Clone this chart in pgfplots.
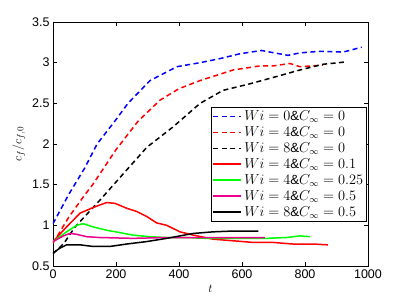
\documentclass[border=0pt]{standalone}
\usepackage{pgfplots}
\pgfplotsset{compat=1.18}
\usepackage{fontspec}
\setmainfont{Liberation Sans}
\begin{document}
\begin{tikzpicture}
\begin{axis}[
 scale only axis, width=315pt, height=244pt,
 xmin=0, xmax=1000, ymin=0.5, ymax=3.5,
 xtick={0,200,...,1000}, ytick={0.5,1,...,3.5},
 tick align=inside, xtick pos=both, ytick pos=both,
 major tick length=4pt,
 tick style={black, line width=0.6pt},
 axis line style={line width=0.8pt},
 ticklabel style={font=\fontsize{12.5}{14}\selectfont},
 /pgf/number format/assume math mode=true,
 /pgf/number format/1000 sep={},
 xlabel={$t$}, ylabel={$c_f/c_{f,0}$},
 label style={font=\fontsize{12.5}{14}\selectfont},
 legend image code/.code={\draw[#1, line width=1.8pt] (0pt,0pt) -- (28pt,0pt);},
 legend style={at={(0.997,0.652)}, anchor=north east, line width=0.9pt,
   font=\fontsize{13.3}{14}\selectfont, inner sep=1.5pt, row sep=0.6pt,
   nodes={inner sep=2pt}},
 legend cell align=left,
]
\addplot[blue, line width=1.5pt, dash pattern=on 5pt off 3.5pt] coordinates {(0,1.02)(50,1.38)(100,1.7)(140,2.0)(200,2.3)(238,2.5)(308,2.78)(393,2.95)(467,3.0)(530,3.05)(594,3.11)(662,3.15)(689,3.13)(746,3.09)(784,3.12)(848,3.14)(921,3.13)(980,3.19)};
\addlegendentry{$Wi=0\&C_\infty=0$}
\addplot[red, line width=1.5pt, dash pattern=on 5pt off 3.5pt] coordinates {(0,0.78)(50,1.1)(100,1.37)(126,1.5)(200,1.93)(270,2.28)(340,2.54)(400,2.68)(467,2.78)(572,2.91)(657,2.96)(699,2.96)(752,2.99)(784,2.95)(857,2.97)};
\addlegendentry{$Wi=4\&C_\infty=0$}
\addplot[black, line width=1.5pt, dash pattern=on 5pt off 3.5pt] coordinates {(0,0.65)(35,0.78)(70,0.98)(149,1.31)(220,1.62)(298,1.96)(381,2.21)(467,2.5)(540,2.66)(625,2.74)(710,2.83)(784,2.91)(857,2.98)(932,3.01)};
\addlegendentry{$Wi=8\&C_\infty=0$}
\addplot[red, line width=1.5pt] coordinates {(0,0.80)(43,0.98)(86,1.15)(128,1.22)(170,1.28)(197,1.27)(234,1.21)(266,1.17)(297,1.11)(329,1.03)(361,1.0)(403,0.92)(445,0.88)(508,0.83)(572,0.81)(635,0.79)(698,0.79)(762,0.77)(826,0.77)(873,0.76)};
\addlegendentry{$Wi=4\&C_\infty=0.1$}
\addplot[green, line width=1.5pt] coordinates {(0,0.80)(43,0.92)(75,1.0)(96,1.02)(128,0.98)(170,0.94)(213,0.91)(254,0.88)(308,0.86)(361,0.85)(423,0.85)(487,0.84)(572,0.84)(677,0.84)(741,0.85)(784,0.87)(816,0.86)};
\addlegendentry{$Wi=4\&C_\infty=0.25$}
\addplot[magenta, line width=1.5pt] coordinates {(0,0.80)(33,0.87)(54,0.90)(75,0.89)(107,0.86)(149,0.85)(254,0.84)(361,0.85)(466,0.85)(572,0.85)(673,0.85)};
\addlegendentry{$Wi=4\&C_\infty=0.5$}
\addplot[black, line width=1.5pt] coordinates {(0,0.66)(22,0.72)(43,0.76)(86,0.76)(128,0.74)(180,0.74)(234,0.77)(297,0.80)(361,0.84)(403,0.87)(445,0.90)(508,0.92)(572,0.93)(652,0.93)};
\addlegendentry{$Wi=8\&C_\infty=0.5$}
\end{axis}
\path (current axis.south west) ++(-53pt,-39pt) rectangle ++(407pt,305pt);
\end{tikzpicture}
\end{document}
